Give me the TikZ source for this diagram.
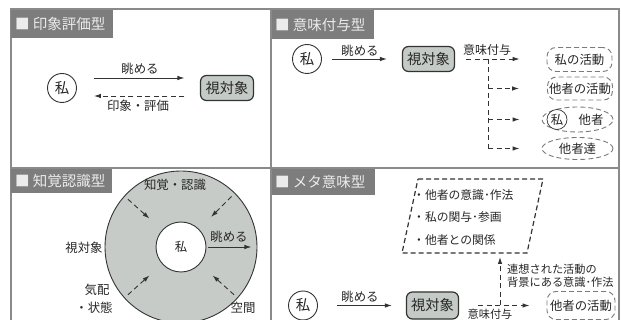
\documentclass[tikz,border=0pt]{standalone}
\usepackage{fontspec}
\setmainfont{Noto Sans CJK JP}
\usetikzlibrary{arrows.meta,shapes.geometric,calc}
\definecolor{framec}{HTML}{8A8A8A}
\definecolor{hdrc}{HTML}{7D7D7D}
\definecolor{dark}{HTML}{333333}
\definecolor{txt}{HTML}{262626}
\definecolor{objc}{HTML}{C4CAC6}
\definecolor{dashc}{HTML}{7A7A7A}
\definecolor{ringc}{HTML}{C6CBC8}
\begin{document}
\begin{tikzpicture}[x=1pt,y=-1pt,
  font=\fontsize{12.4}{14}\selectfont, text=txt,
  frame/.style={draw=framec, line width=1.1pt},
  hdrtxt/.style={anchor=west, text=white!92!black, font=\fontsize{14.5}{16}\selectfont, inner sep=0pt},
  me/.style={circle, draw=dark, line width=0.9pt, fill=white, minimum size=29pt, inner sep=0pt, font=\fontsize{14.5}{16}\selectfont},
  obj/.style={rectangle, rounded corners=6pt, draw=dark, line width=1.2pt, fill=objc, minimum width=53pt, minimum height=25pt, inner sep=0pt, font=\fontsize{14.3}{16}\selectfont},
  dbox/.style={rectangle, rounded corners=9pt, draw=dashc, dash pattern=on 5pt off 3pt, line width=0.9pt, minimum width=65pt, minimum height=24pt, inner sep=0pt, font=\fontsize{12.4}{14}\selectfont},
  dell/.style={ellipse, draw=dashc, dash pattern=on 5pt off 3pt, line width=0.9pt, minimum width=71pt, minimum height=24pt, inner sep=0pt, font=\fontsize{12.4}{14}\selectfont},
  arr/.style={-{Latex[length=7pt,width=4.5pt]}, line width=0.9pt, draw=dark},
  darr/.style={arr, dash pattern=on 5pt off 3.5pt},
  dline/.style={line width=0.9pt, draw=dark, dash pattern=on 5pt off 3.5pt},
  lbl/.style={inner sep=0pt},
]
\useasboundingbox (0,0) rectangle (621,320);

% ---------- frame ----------
\draw[frame] (11,320) -- (11,9) -- (619,9) -- (619,320);
\draw[frame] (271,9) -- (271,320);
\draw[frame] (11,168) -- (619,168);

% ---------- headers ----------
\fill[hdrc] (11,9.6) rectangle (113,38);
\node[hdrtxt] (h1) at (15,24) {■ 印象評価型};
\fill[hdrc] (271.6,9.6) rectangle (374,39);
\node[hdrtxt] (h2) at (275,24.5) {■ 意味付与型};
\fill[hdrc] (11,168.6) rectangle (112,193);
\node[hdrtxt] (h3) at (15,181) {■ 知覚認識型};
\fill[hdrc] (271.6,168.6) rectangle (375,195);
\node[hdrtxt] (h4) at (275,182) {■ メタ意味型};

% ---------- 印象評価型 ----------
\node[me] (a1) at (62,88) {私};
\node[obj] (b1) at (227,88) {視対象};
\draw[arr] ($(a1.east)+(17,-10)$) -- ($(b1.west)+(-15.5,-10)$);
\node[lbl] (l1) at (140,69) {眺める};
\draw[darr] ($(b1.west)+(-15.5,8)$) -- ($(a1.east)+(17,8)$);
\node[lbl] (l2) at (138,106) {印象・評価};

% ---------- 意味付与型 ----------
\node[me] (a2) at (307,59) {私};
\node[obj, minimum width=52pt] (b2) at (428.5,59) {視対象};
\draw[arr] ($(a2.east)+(10.5,0)$) -- ($(b2.west)+(-15,0)$);
\node[lbl] (l3) at (360,51) {眺める};
\node[lbl, font=\fontsize{12}{13}\selectfont] (l4) at (487,50) {意味付与};

\node[dbox] (c1) at (579.5,59.5) {私の活動};
\node[dbox, minimum width=65pt, minimum height=23pt] (c2) at (580,88.5) {他者の活動};
\node[dell, minimum height=25pt] (c3) at (577.5,119.5) {};
\node[me, minimum size=20pt, font=\fontsize{12.4}{14}\selectfont, line width=0.7pt] (c3m) at (557,119.5) {私};
\node[lbl] (c3t) at (591,119.5) {他者};
\node[dell, minimum height=22pt] (c4) at (577.5,148.5) {他者達};

\coordinate (j) at (488,59);
\coordinate (jb) at (488,148.5);
\draw[darr] ($(b2.east)+(11,0)$) -- ($(c1.west)+(-27,-0.5)$);
\draw[dline] (j) -- (jb);
\draw[darr] (j |- c2.west) -- ($(c2.west)+(-28,0)$);
\draw[darr] (j |- c3.west) -- ($(c3.west)+(-22,0)$);
\draw[darr] (jb) -- ($(c4.west)+(-22,0)$);

% ---------- 知覚認識型 ----------
\node[circle, draw=dark, line width=0.9pt, fill=ringc, minimum size=152pt, inner sep=0pt] (o) at (181,247) {};
\node[circle, draw=dark, line width=0.9pt, fill=white, minimum size=50pt, inner sep=0pt] (i) at (181,247) {私};
\foreach \ang in {138,45,222,318}{
  \draw[darr, shorten <=5pt, shorten >=17pt] (o.\ang) -- (i.\ang);
}
\draw[arr, shorten <=2pt] (i.east) -- ($(o.east)+(-6,0)$);
\node[lbl] (l5) at (229,237) {眺める};
\node[lbl] (l6) at (175,185) {知覚・認識};
\node[lbl] (l7) at (84,248) {視対象};
\node[lbl] (l8) at (97,290) {気配};
\node[lbl] (l9) at (94,308) {・状態};
\node[lbl] (l10) at (243,308) {空間};

% ---------- メタ意味型 ----------
\coordinate (p1) at (418,179);
\coordinate (p2) at (543,179);
\coordinate (p3) at (527,253);
\coordinate (p4) at (402,253);
\coordinate (pb) at (500,253);
\draw[line width=1.2pt, draw=dark, dash pattern=on 5pt off 3pt] (p1) -- (p2) -- (p3) -- (p4) -- cycle;
\node[lbl, anchor=west, align=left, font=\fontsize{11.8}{22.5}\selectfont] (list) at (413,217.5) {・他者の意識･作法\\・私の関与･参画\\・他者との関係};

\node[me] (a4) at (303,305.5) {私};
\node[obj, minimum width=52pt, minimum height=27pt] (b4) at (432.5,305.5) {視対象};
\node[dbox, minimum width=68pt, minimum height=28pt] (d4) at (581,305.5) {他者の活動};
\draw[arr] ($(a4.east)+(19.5,0)$) -- ($(b4.west)+(-14,0)$);
\node[lbl] (l11) at (360,297) {眺める};
\coordinate (k) at (500,305.5);
\draw[darr] ($(b4.east)+(19,0)$) -- ($(d4.west)+(-17,0)$);
\draw[darr, shorten >=4pt] (k) -- (pb);
\node[lbl, font=\fontsize{11.2}{13}\selectfont] (l12) at (490,314) {意味付与};
\node[lbl, anchor=west, align=left, font=\fontsize{11.2}{13}\selectfont] (l13) at (507,275.5) {連想された活動の\\背景にある意識･作法};
\end{tikzpicture}
\end{document}
